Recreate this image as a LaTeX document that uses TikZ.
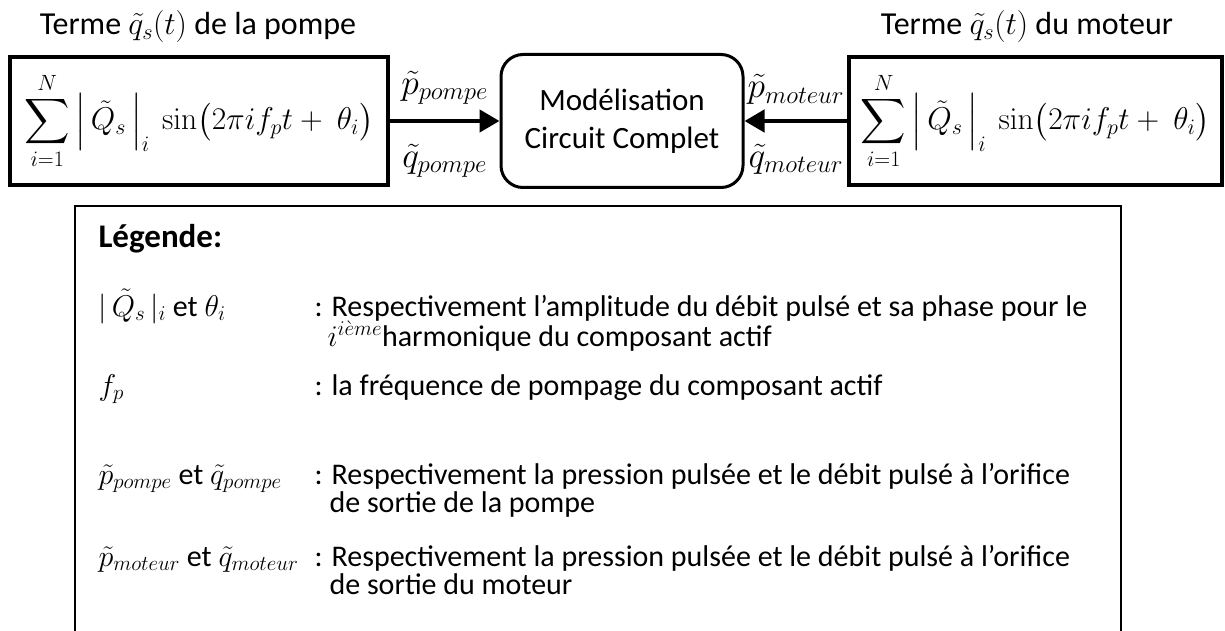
\RequirePackage{fix-cm}
\documentclass[tikz,border=0pt]{standalone}
\usepackage{amsmath,amssymb}
\usepackage[no-math]{fontspec}
\setmainfont{Carlito}
\usetikzlibrary{arrows.meta,positioning}

\newcommand{\termsum}{$\displaystyle\sum_{i=1}^{N}\Big|\,\tilde{Q}_s\,\Big|_i\ \sin\!\big(2\pi i f_p t+\ \theta_i\big)$}

\begin{document}
\begin{tikzpicture}[x=1pt,y=-1pt,>=Stealth,every node/.style={font=\fontsize{30}{34}\selectfont}]
\useasboundingbox (0,0) rectangle (1225,631);
\tikzset{
  srcbox/.style={draw,line width=3.5pt,minimum height=128pt,inner sep=0pt,font=\fontsize{31.5}{36}\selectfont},
  flow/.style={line width=4.5pt,-{Triangle[length=20pt,width=22pt]}},
  lab/.style={font=\fontsize{35.5}{40}\selectfont,inner sep=0pt},
  item/.style={anchor=base west}
}
% blocs du haut
\node[srcbox,minimum width=378pt] (pompe) at (199,121) {\termsum};
\node[srcbox,minimum width=373pt] (moteur) at (1035.5,121) {\termsum};
\node[draw,line width=3pt,rounded corners=22pt,minimum width=242pt,minimum height=133pt,align=center,font=\fontsize{31}{38}\selectfont] (circuit) at (622,121) {Modélisation\\Circuit Complet};
\node[anchor=base,font=\fontsize{32}{36}\selectfont] (tpompe) at (198,35) {Terme $\tilde{q}_s(t)$ de la pompe};
\node[anchor=base,font=\fontsize{32}{36}\selectfont] (tmoteur) at (1027,35) {Terme $\tilde{q}_s(t)$ du moteur};
\draw[flow] (pompe) -- (circuit) node[lab,midway,above=14pt] (ppompe) {$\tilde{p}_{pompe}$} node[lab,midway,below=21pt] (qpompe) {$\tilde{q}_{pompe}$};
\draw[flow] (moteur) -- (circuit) node[lab,midway,above=14pt] (pmoteur) {$\tilde{p}_{moteur}$} node[lab,midway,below=21pt] (qmoteur) {$\tilde{q}_{moteur}$};
% legende
\draw[line width=2.5pt] (75,640) |- (1121,206) -- (1121,640);
\node[item,font=\fontsize{33}{38}\selectfont\bfseries] (leg) at (95,247) {Légende:};
\node[item] (s1) at (95,316) {$|\,\tilde{Q}_s\,|_i$ et $\theta_i$};
\node[item] (d1) at (311,316) {: Respectivement l’amplitude du débit pulsé et sa phase pour le};
\node[item] (d1b) at (324,346) {$i^{i\grave{e}me}$harmonique du composant actif};
\node[item] (s2) at (95,395) {$f_p$};
\node[item] (d2) at (311,395) {: la fréquence\ de pompage du composant actif};
\node[item] (s3) at (95,484) {$\tilde{p}_{pompe}$ et $\tilde{q}_{pompe}$};
\node[item] (d3) at (311,484) {: Respectivement la pression pulsée et le débit pulsé à l’orifice};
\node[item] (d3b) at (326,512) {de sortie de la pompe};
\node[item] (s4) at (95,566) {$\tilde{p}_{moteur}$ et $\tilde{q}_{moteur}$};
\node[item] (d4) at (311,566) {: Respectivement la pression pulsée et le débit pulsé à l’orifice};
\node[item] (d4b) at (326,594) {de sortie du moteur};
\end{tikzpicture}
\end{document}
